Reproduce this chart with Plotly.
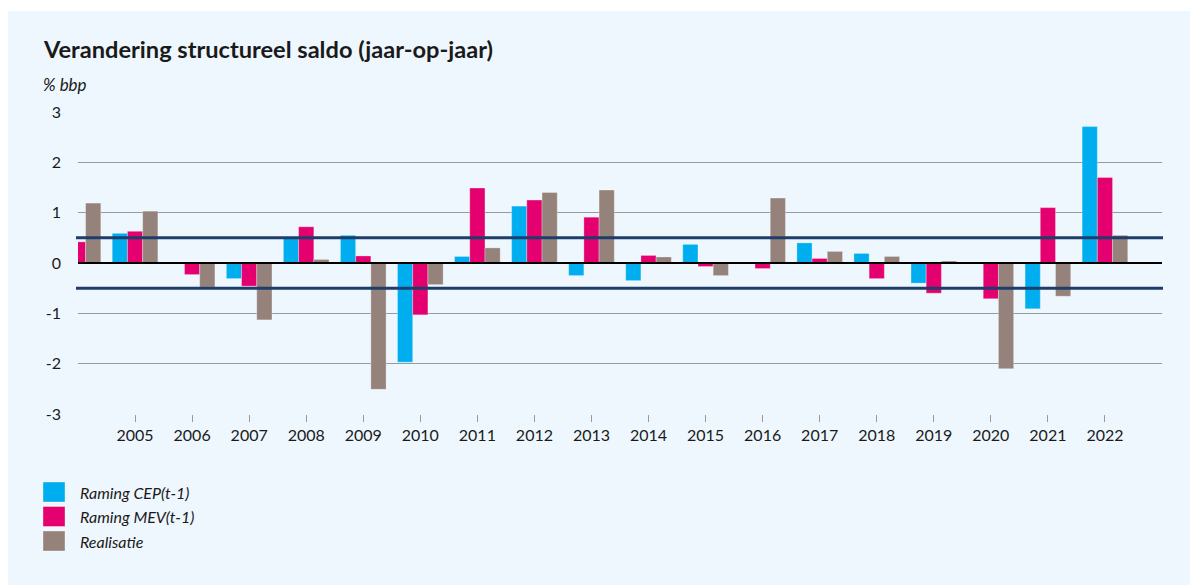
import plotly.graph_objects as go

years = list(range(2004, 2023))
tick_years = list(range(2005, 2023))
raming_cep = [None, 0.59, None, -0.31, 0.49, 0.55, -1.97, 0.13, 1.13, -0.25, -0.35, 0.37, None, 0.40, 0.19, -0.40, None, -0.91, 2.71]
raming_mev = [0.42, 0.63, -0.23, -0.46, 0.72, 0.14, -1.03, 1.49, 1.25, 0.91, 0.15, -0.07, -0.11, 0.09, -0.31, -0.60, -0.71, 1.10, 1.70]
realisatie = [1.19, 1.03, -0.48, -1.13, 0.07, -2.51, -0.43, 0.30, 1.40, 1.45, 0.12, -0.25, 1.29, 0.23, 0.13, 0.04, -2.10, -0.66, 0.55]
series_names = ["Raming CEP(t-1)", "Raming MEV(t-1)", "Realisatie"]
colors = ["#00AEEF", "#E4006E", "#94827B"]
band = 0.5
y_ticks = [-3, -2, -1, 0, 1, 2, 3]
y_ticktext = ["-3", "-2", "-1", "0", "1", "2", "3"]

FONT = "Lato"
TXT = "#1a1a1a"

fig = go.Figure()
for name, vals, col in zip(series_names, [raming_cep, raming_mev, realisatie], colors):
    fig.add_trace(go.Bar(x=years, y=vals, name=name, marker_color=col,
                         marker_line_width=0.6, marker_line_color="rgba(255,255,255,0.5)",
                         showlegend=False))

OFF = 8  # page body margin
W, H = 1190, 577
L, R, T, B = 78 - OFF, 36, 112 - OFF, 171
pw, ph = W - L - R, H - T - B

def px_x(p):
    return (p - OFF - L) / pw

def px_y(p):
    return (H - B - (p - OFF)) / ph

shapes = []
# panel background
shapes.append(dict(type="rect", xref="paper", yref="paper", x0=px_x(8), x1=px_x(1200),
                   y0=px_y(590), y1=px_y(11), fillcolor="#EEF7FE", line_width=0, layer="below"))
# band lines
for v in (band, -band):
    shapes.append(dict(type="line", xref="paper", yref="y", x0=px_x(76), x1=px_x(1163),
                       y0=v, y1=v, line=dict(color="#1E3D6B", width=3), layer="above"))
# zero line
shapes.append(dict(type="line", xref="paper", yref="y", x0=0, x1=1, y0=0, y1=0,
                   line=dict(color="#000000", width=2), layer="above"))

annotations = [
    dict(text="<b>Verandering structureel saldo (jaar-op-jaar)</b>", xref="paper", yref="paper",
         x=px_x(41), y=px_y(49), xanchor="left", yanchor="middle", showarrow=False,
         font=dict(family=FONT, size=23.6, color=TXT)),
    dict(text="<i>% bbp</i>", xref="paper", yref="paper",
         x=px_x(41), y=px_y(84), xanchor="left", yanchor="middle", showarrow=False,
         font=dict(family=FONT, size=17, color=TXT)),
]
legend_y = [492, 516.5, 541]
for name, col, yy in zip(series_names, colors, legend_y):
    shapes.append(dict(type="rect", xref="paper", yref="paper", x0=px_x(43), x1=px_x(65),
                       y0=px_y(yy + 10), y1=px_y(yy - 10), fillcolor=col,
                       line=dict(color="rgba(255,255,255,0.6)", width=0.6)))
    annotations.append(dict(text="<i>" + name + "</i>", xref="paper", yref="paper",
                            x=px_x(78), y=px_y(yy), xanchor="left", yanchor="middle",
                            showarrow=False, font=dict(family=FONT, size=16, color=TXT)))

fig.update_layout(
    width=W, height=H,
    margin=dict(l=L, r=R, t=T, b=B, autoexpand=False),
    paper_bgcolor="#FFFFFF", plot_bgcolor="rgba(0,0,0,0)",
    barmode="group", bargap=0.2, bargroupgap=0,
    font=dict(family=FONT, color=TXT, size=15),
    shapes=shapes, annotations=annotations,
    showlegend=False,
    xaxis=dict(range=[2004, 2023], tickvals=tick_years, ticktext=[str(y) for y in tick_years],
               showgrid=False, zeroline=False, showline=False,
               ticks="outside", ticklen=7, tickcolor="#9a9a9a", tickwidth=1,
               tickfont=dict(family=FONT, size=16, color=TXT)),
    yaxis=dict(range=[-3, 3], tickvals=y_ticks, ticktext=y_ticktext,
               showgrid=True, gridcolor="#9a9a9a", gridwidth=1,
               zeroline=False, showline=False, ticks="", ticklabelstandoff=16,
               tickfont=dict(family=FONT, size=16, color=TXT)),
)

fig.write_html("out.html")
